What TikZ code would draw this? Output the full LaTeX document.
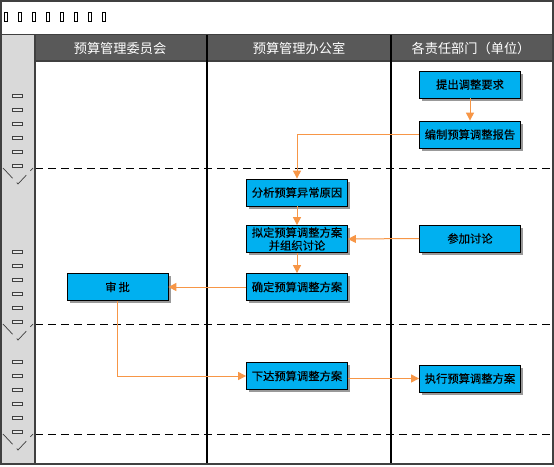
\documentclass[tikz,border=0pt]{standalone}
\usepackage{fontspec}
\newfontfamily\cjk{Noto Sans CJK SC}
\newfontfamily\cjkb{Noto Sans CJK SC}[FakeBold=0.3]
\usetikzlibrary{arrows.meta,shadows}
\definecolor{boxblue}{HTML}{00B0F0}
\definecolor{flow}{HTML}{F79646}
\definecolor{hdr}{HTML}{595959}
\definecolor{lane}{HTML}{D9D9D9}
\definecolor{frame}{HTML}{404040}
\tikzset{
  stepbox/.style={draw=black, line width=0.8pt, fill=boxblue, minimum width=101pt, minimum height=27pt,
    inner sep=0pt, align=center, font=\cjkb\fontsize{11.3}{13}\selectfont,
    drop shadow={shadow xshift=2.5pt, shadow yshift=-2.5pt, fill=black!40, opacity=1}},
  flowline/.style={draw=flow, line width=1pt, -{Triangle[length=8pt,width=8pt]}},
  lanehead/.style={text=white, font=\cjk\fontsize{13.2}{15}\selectfont},
  sep/.style={draw=black, line width=0.9pt, dash pattern=on 8pt off 5pt},
  lanemark/.style={draw=frame, fill=white!90!black, line width=0.6pt},
  tofu/.style={draw=black, line width=0.5pt}
}
\begin{document}
\begin{tikzpicture}[x=1pt,y=-1pt]
\useasboundingbox (0,0) rectangle (554,466);
% title row
\fill[white] (0,0) rectangle (554,466);
\foreach \i in {0,...,7} {\draw[tofu] (4+14*\i,12) rectangle (7+14*\i,21);}
% left gray lane
\fill[lane] (2,34) rectangle (35,464);
% header
\fill[hdr] (35,35) rectangle (552,61);
\draw[frame, line width=1.2pt] (35,61) -- (552,61);
\node[lanehead] (h1) at (120,48) {预算管理委员会};
\node[lanehead] (h2) at (299,48) {预算管理办公室};
\node[lanehead] (h3) at (471,48) {各责任部门（单位）};
% column lines
\draw[black, line width=1.2pt] (207,35) -- (207,464);
\draw[black, line width=1.2pt] (391,35) -- (391,464);
% dashed separators
\draw[sep] (35,168) -- (552,168);
\draw[sep] (35,324) -- (552,324);
\draw[sep] (35,434) -- (552,434);
% lane markers
\foreach \y in {96,110,124,138,152,166,252,266,280,294,308,322,362,376,390,404,418,432}
  {\draw[lanemark] (12,\y-1.5) rectangle (22,\y+1.5);}
\foreach \y in {168,324,434}
  {\draw[frame, line width=0.7pt, dash pattern=on 14pt off 6pt] (3,\y) -- (18,\y+16) -- (33,\y);}
% frame
\draw[frame, line width=1.5pt] (35,34) -- (35,464);
\draw[frame, line width=1pt] (1,34) -- (553,34);
\draw[frame, line width=2pt] (1,1) rectangle (553,464);
% nodes
\node[stepbox] (tichu) at (470,84.5) {提出调整要求};
\node[stepbox] (bianzhi) at (470,134.5) {编制预算调整报告};
\node[stepbox] (fenxi) at (297,192.5) {分析预算异常原因};
\node[stepbox] (niding) at (297,239) {拟定预算调整方案\\并组织讨论};
\node[stepbox] (canjia) at (470,238.5) {参加讨论};
\node[stepbox] (queding) at (297,287) {确定预算调整方案};
\node[stepbox] (shenpi) at (117.5,287) {审\hspace{2pt}批};
\node[stepbox] (xiada) at (297,376) {下达预算调整方案};
\node[stepbox] (zhixing) at (470,378.5) {执行预算调整方案};
% connectors
\draw[flowline] (tichu) -- (bianzhi);
\draw[flowline] (bianzhi.west) -| (fenxi.north);
\draw[flowline] (fenxi) -- (niding);
\draw[flowline] (canjia.west) -- (niding.east);
\draw[flowline] (niding) -- (queding);
\draw[flowline] (queding.west) -- (shenpi.east);
\draw[flowline] (shenpi.south) |- (xiada.west);
\draw[flowline] (xiada.east |- zhixing.west) -- (zhixing.west);
\end{tikzpicture}
\end{document}
